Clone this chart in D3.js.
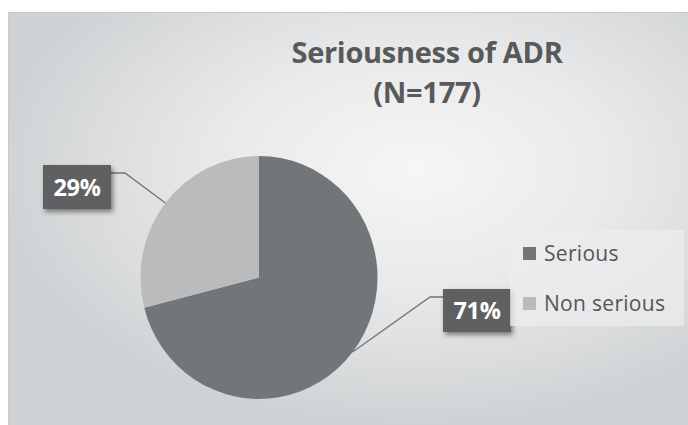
<!DOCTYPE html>
<html><head><meta charset="utf-8">
<script src="https://cdn.jsdelivr.net/npm/d3@7"></script>
<style>html,body{margin:0;padding:0;background:#fff;}svg{display:block;}</style>
</head><body>
<script>
const categories = ["Serious", "Non serious"];
const values = [71, 29];
const valueLabels = ["71%", "29%"];
const titleLines = ["Seriousness of ADR", "(N=177)"];
const colors = ["#737679", "#b9bbbd"];

const W = 688, H = 425;
const svg = d3.select("body").append("svg").attr("width", W).attr("height", H);
const defs = svg.append("defs");
const rg = defs.append("radialGradient").attr("id","bg").attr("cx","0.6").attr("cy","0.38").attr("r","0.62");
rg.append("stop").attr("offset","0").attr("stop-color","#f6f6f6");
rg.append("stop").attr("offset","0.45").attr("stop-color","#e9eaeb");
rg.append("stop").attr("offset","1").attr("stop-color","#cfd2d4");
const f = defs.append("filter").attr("id","sh").attr("x","-30%").attr("y","-30%").attr("width","170%").attr("height","180%");
f.append("feDropShadow").attr("dx",2).attr("dy",3).attr("stdDeviation",2.5).attr("flood-color","#000").attr("flood-opacity",0.45);

svg.append("rect").attr("x",8).attr("y",12).attr("width",W-8).attr("height",H-12).attr("fill","url(#bg)");
svg.append("line").attr("x1",8).attr("x2",W).attr("y1",12.5).attr("y2",12.5).attr("stroke","#c8cacc").attr("stroke-width",1);
svg.append("line").attr("x1",8.5).attr("x2",8.5).attr("y1",12).attr("y2",H).attr("stroke","#c8cacc").attr("stroke-width",1);

// title
svg.append("g").selectAll("text").data(titleLines).join("text")
  .attr("x",427).attr("y",(d,i)=>63+i*40).attr("text-anchor","middle")
  .attr("font-family","'Open Sans', sans-serif").attr("font-weight","bold")
  .attr("font-size",29).attr("fill","#595959").attr("letter-spacing",-0.3).text(d=>d);

// pie
const cx = 259, cy = 277.5, ry = 121.5, rx = 118.5;
const pie = d3.pie().sort(null).value(d=>d)(values);
const arc = d3.arc().innerRadius(0).outerRadius(ry);
svg.append("g").attr("transform",`translate(${cx},${cy}) scale(${rx/ry},1)`)
  .selectAll("path").data(pie).join("path")
  .attr("d",arc).attr("fill",(d,i)=>colors[i]);

// leader lines + labels
const labelPos = [ {bx:443, by:289, bw:68, bh:43, ex:430, ey:297, side:"left"},
                   {bx:43, by:165, bw:68, bh:44, ex:125, ey:173, side:"right"} ];
pie.forEach((d,i)=>{
  const a = (d.startAngle + d.endAngle)/2;
  const px = cx + rx*Math.sin(a), py = cy - ry*Math.cos(a);
  const L = labelPos[i];
  const jx = L.side==="left" ? L.bx : L.bx + L.bw;
  svg.append("polyline").attr("points",`${px},${py} ${L.ex},${L.ey} ${jx},${L.ey}`)
    .attr("fill","none").attr("stroke","#727476").attr("stroke-width",1.3);
  svg.append("rect").attr("x",L.bx).attr("y",L.by).attr("width",L.bw).attr("height",L.bh)
    .attr("fill","#5e6062").attr("filter","url(#sh)");
  svg.append("text").attr("x",L.bx+L.bw/2).attr("y",L.by+L.bh/2+8.5).attr("text-anchor","middle")
    .attr("font-family","'Open Sans', sans-serif").attr("font-weight","bold").attr("font-size",23.5)
    .attr("fill","#fff").attr("letter-spacing",-0.3).text(valueLabels[i]);
});

// legend
svg.append("rect").attr("x",510).attr("y",230).attr("width",174).attr("height",96).attr("fill","#ececed").attr("opacity",0.75);
const lg = svg.append("g").selectAll("g").data(categories).join("g")
  .attr("transform",(d,i)=>`translate(523,${247+i*50})`);
lg.append("rect").attr("width",13).attr("height",13).attr("fill",(d,i)=>colors[i]);
lg.append("text").attr("x",21).attr("y",13.5).attr("font-family","'Open Sans', sans-serif")
  .attr("font-size",21).attr("fill","#555").attr("letter-spacing",0.3).text(d=>d);
</script>
</body></html>
